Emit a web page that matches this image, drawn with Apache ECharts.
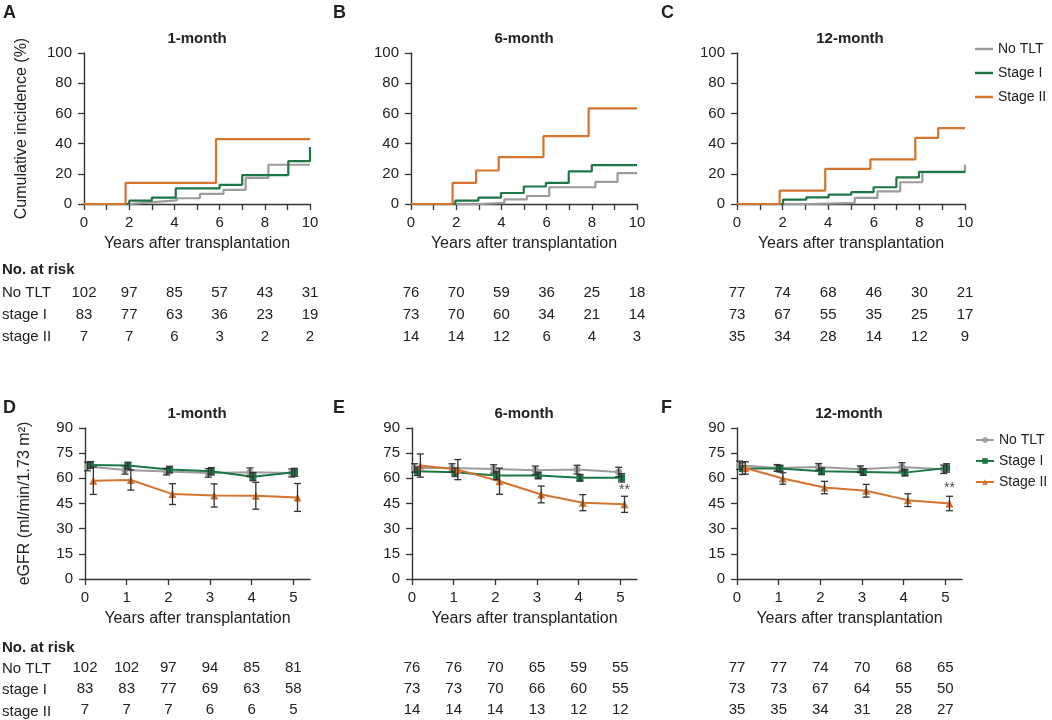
<!DOCTYPE html>
<html>
<head>
<meta charset="utf-8">
<script src="https://cdn.jsdelivr.net/npm/echarts@6/dist/echarts.min.js"></script>
<style>html,body{margin:0;padding:0;background:#fff}#c{width:1052px;height:720px}</style>
</head>
<body>
<div id="c"></div>
<script>
// ---------- DATA ----------
const groups = ['No TLT', 'Stage I', 'Stage II'];
const riskRows = ['No TLT', 'stage I', 'stage II'];
const panelTitles = ['1-month', '6-month', '12-month'];
const topLetters = ['A', 'B', 'C'];
const botLetters = ['D', 'E', 'F'];

// Cumulative incidence (%) step points [year, value after jump]
const ciA_noTLT  = [[0,0],[2.03,1.3],[3.07,2.4],[4.1,3.8],[5.13,6.7],[6.17,9.3],[7.15,17.3],[8.16,26],[10,26]];
const ciA_stage1 = [[0,0],[2.0,2.2],[3.0,4.2],[4.06,10.4],[6.0,12.7],[7.0,19.1],[9.04,28.4],[10,37.8]];
const ciA_stage2 = [[0,0],[1.84,14],[5.84,43],[10,43]];
const ciB_noTLT  = [[0,0],[3.0,0.8],[4.13,3.1],[5.13,5.3],[6.12,11.1],[8.16,14.7],[9.14,20.4],[10,20.4]];
const ciB_stage1 = [[0,0],[1.96,2.2],[2.98,4.2],[3.98,7.3],[4.99,11.6],[5.97,14],[6.98,21.6],[8.0,25.8],[10,25.8]];
const ciB_stage2 = [[0,0],[1.84,14],[2.88,22.2],[3.88,31.1],[5.86,44.9],[7.86,63.3],[10,63.3]];
const ciC_noTLT  = [[0,0],[3.2,0.7],[5.16,4],[6.16,8.4],[7.16,14.4],[8.13,21.1],[10,21.1],[10,26]];
const ciC_stage1 = [[0,0],[2.02,2.9],[3.04,4.4],[4.02,6.2],[5.01,7.8],[5.99,11.1],[6.99,17.6],[7.98,21.3],[10,21.3]];
const ciC_stage2 = [[0,0],[1.87,8.9],[3.87,23.3],[5.85,29.6],[7.82,43.8],[8.82,50.2],[10,50.2]];

// Risk tables (top: years 0,2,...,10)
const riskYearsTop = [0, 2, 4, 6, 8, 10];
const riskA = [[102,97,85,57,43,31],[83,77,63,36,23,19],[7,7,6,3,2,2]];
const riskB = [[76,70,59,36,25,18],[73,70,60,34,21,14],[14,14,12,6,4,3]];
const riskC = [[77,74,68,46,30,21],[73,67,55,35,25,17],[35,34,28,14,12,9]];

// eGFR (mean, error) at years
const egfrYears = [0.1, 1, 2, 3, 4, 5];
const egfrD_noTLT  = [67, 65, 64, 63.2, 63.6, 63.2];
const egfrD_stage1 = [68, 67.6, 65.2, 64.2, 61, 63.6];
const egfrD_stage2 = [58.6, 59, 50.6, 49.8, 49.6, 48.6];
const errD_noTLT  = [2.5, 2.5, 2, 2.5, 2.6, 2.4];
const errD_stage1 = [2, 2, 2, 2.2, 2.4, 2.4];
const errD_stage2 = [8.2, 6, 6.2, 6.9, 8, 8.3];
const egfrE_noTLT  = [66.2, 66.2, 65.6, 64.8, 65.2, 63.8];
const egfrE_stage1 = [64.2, 63.6, 61.7, 61.7, 60.3, 60.3];
const egfrE_stage2 = [67.6, 65.2, 58.3, 50.4, 45.5, 44.5];
const errE_noTLT  = [2.5, 2.5, 2.5, 2.5, 2.6, 2.8];
const errE_stage1 = [2.5, 2.5, 2.5, 2, 2, 2.5];
const errE_stage2 = [6.9, 6, 7.8, 5, 4.8, 4.8];
const egfrF_noTLT  = [67.8, 66.2, 66.8, 65.4, 66.8, 65.4];
const egfrF_stage1 = [65.8, 65.8, 64.2, 63.8, 63.4, 66.2];
const egfrF_stage2 = [66.2, 59.9, 54.5, 52.6, 47, 45];
const errF_noTLT  = [2.5, 2, 2, 2, 2.5, 2.5];
const errF_stage1 = [3.5, 2, 2, 2, 2, 2.5];
const errF_stage2 = [3.7, 3.4, 3.7, 3.8, 3.8, 4.3];
const sigE = [[5.1, 53]];
const sigF = [[5.1, 54]];

// Risk tables (bottom: years 0..5)
const riskYearsBot = [0, 1, 2, 3, 4, 5];
const riskD = [[102,102,97,94,85,81],[83,83,77,69,63,58],[7,7,7,6,6,5]];
const riskE = [[76,76,70,65,59,55],[73,73,70,66,60,55],[14,14,14,13,12,12]];
const riskF = [[77,77,74,70,68,65],[73,73,67,64,55,50],[35,35,34,31,28,27]];

// ---------- STYLE ----------
const FONT = 'Liberation Sans, Arial, sans-serif';
const TXT = '#222';
const AX = '#333';
const COL = ['#9c9c9c', '#1d7745', '#d4742e'];
const SYM = ['circle', 'rect', 'triangle'];
const DODGE = [-0.04, 0.03, 0.1];

const topGrids = [{left:84,width:226},{left:411,width:226},{left:737,width:228}];
const botGrids = [{left:85,width:225},{left:412,width:225},{left:737,width:225}];

const grid = [], xAxis = [], yAxis = [], series = [];
function addGrid(g){ grid.push(g); return grid.length - 1; }

function panelAxes(gi, isTop, first){
  xAxis.push({
    gridIndex: gi, type: 'value', min: 0, max: isTop ? 10 : 5.4,
    interval: 1,
    axisLine: {lineStyle: {color: AX, width: 1.4}},
    axisTick: isTop ? {length: 6, lineStyle:{color:AX, width:1.3}} : {length: 6, lineStyle:{color:AX, width:1.3}, customValues:[0,1,2,3,4,5]},
    axisLabel: isTop ? {fontSize: 15, color: TXT, fontFamily: FONT, margin: 11, formatter: v => (v % 2 === 0 ? String(v) : '')}
                     : {fontSize: 15, color: TXT, fontFamily: FONT, margin: 11, customValues:[0,1,2,3,4,5]},
    splitLine: {show: false},
    name: 'Years after transplantation', nameLocation: 'middle', nameGap: 32,
    nameTextStyle: {fontSize: 16, color: TXT, fontFamily: FONT}
  });
  yAxis.push({
    gridIndex: gi, type: 'value', min: 0, max: isTop ? 100 : 90, interval: isTop ? 20 : 15,
    axisLine: {show: true, lineStyle: {color: AX, width: 1.4}},
    axisTick: {show: true, length: 6, lineStyle:{color:AX, width:1.3}},
    axisLabel: {fontSize: 15, color: TXT, fontFamily: FONT, margin: 12},
    splitLine: {show: false},
    name: first ? (isTop ? 'Cumulative incidence (%)' : 'eGFR (ml/min/1.73 m²)') : '',
    nameLocation: 'middle', nameGap: isTop ? 54 : 52,
    nameTextStyle: {fontSize: 16, color: TXT, fontFamily: FONT}
  });
}

function tableAxes(gi, max){
  xAxis.push({gridIndex: gi, type: 'value', min: 0, max: max, show: false});
  yAxis.push({gridIndex: gi, type: 'category', data: riskRows, inverse: true, show: false});
}

function tableSeries(idx, years, rows){
  const data = [];
  rows.forEach((r, ri) => r.forEach((v, ci) => data.push([years[ci], ri, v])));
  series.push({
    type: 'custom', xAxisIndex: idx, yAxisIndex: idx, data: data, silent: true,
    encode: {x: 0, y: 1},
    renderItem: (params, api) => {
      const p = api.coord([api.value(0), api.value(1)]);
      return {type: 'text', x: p[0], y: p[1], style: {text: String(api.value(2)), textAlign: 'center', textVerticalAlign: 'middle', fill: TXT, font: '15px ' + FONT}};
    }
  });
}

function errRender(color){
  return (params, api) => {
    const x = api.value(0);
    const a = api.coord([x, api.value(1)]), b = api.coord([x, api.value(2)]);
    const w = 3.5;
    const st = {stroke: color, lineWidth: 1.3};
    return {type: 'group', children: [
      {type: 'line', shape: {x1: a[0], y1: a[1], x2: b[0], y2: b[1]}, style: st},
      {type: 'line', shape: {x1: a[0]-w, y1: a[1], x2: a[0]+w, y2: a[1]}, style: st},
      {type: 'line', shape: {x1: b[0]-w, y1: b[1], x2: b[0]+w, y2: b[1]}, style: st}
    ]};
  };
}

const ciSets = [[ciA_noTLT, ciA_stage1, ciA_stage2],[ciB_noTLT, ciB_stage1, ciB_stage2],[ciC_noTLT, ciC_stage1, ciC_stage2]];
const riskTop = [riskA, riskB, riskC];
const egfrSets = [[egfrD_noTLT, egfrD_stage1, egfrD_stage2],[egfrE_noTLT, egfrE_stage1, egfrE_stage2],[egfrF_noTLT, egfrF_stage1, egfrF_stage2]];
const errSets = [[errD_noTLT, errD_stage1, errD_stage2],[errE_noTLT, errE_stage1, errE_stage2],[errF_noTLT, errF_stage1, errF_stage2]];
const riskBot = [riskD, riskE, riskF];
const sigSets = [null, sigE, sigF];

// Top panels
for (let p = 0; p < 3; p++){
  const gi = addGrid({left: topGrids[p].left, width: topGrids[p].width, top: 53, height: 151});
  panelAxes(gi, true, p === 0);
  for (let s = 0; s < 3; s++){
    series.push({
      type: 'line', name: groups[s], xAxisIndex: gi, yAxisIndex: gi, data: ciSets[p][s],
      step: 'end', symbol: 'none', lineStyle: {color: COL[s], width: 2.2}, itemStyle: {color: COL[s]},
      z: 3 + s, animation: false
    });
  }
}
// Top tables
for (let p = 0; p < 3; p++){
  const gi = addGrid({left: topGrids[p].left, width: topGrids[p].width, top: 282, height: 66});
  tableAxes(gi, 10);
  tableSeries(gi, riskYearsTop, riskTop[p]);
}
// Bottom panels
for (let p = 0; p < 3; p++){
  const gi = addGrid({left: botGrids[p].left, width: botGrids[p].width, top: 428, height: 151});
  panelAxes(gi, false, p === 0);
  for (let s = 0; s < 3; s++){
    const vals = egfrSets[p][s], errs = errSets[p][s];
    const xs = egfrYears.map(x => x + DODGE[s]);
    series.push({
      type: 'line', name: groups[s] + ' ', xAxisIndex: gi, yAxisIndex: gi,
      data: vals.map((v, i) => [xs[i], v]),
      symbol: SYM[s], symbolSize: s === 2 ? 8 : 7, showSymbol: true,
      lineStyle: {color: COL[s], width: 2}, itemStyle: {color: COL[s]},
      z: 3 + s, animation: false
    });
    series.push({
      type: 'custom', xAxisIndex: gi, yAxisIndex: gi, silent: true, z: 6,
      data: vals.map((v, i) => [xs[i], v - errs[i], v + errs[i]]),
      encode: {x: 0, y: [1, 2]},
      renderItem: errRender('#333')
    });
  }
  if (sigSets[p]){
    series.push({
      type: 'scatter', xAxisIndex: gi, yAxisIndex: gi, data: sigSets[p], symbolSize: 1,
      itemStyle: {color: 'rgba(0,0,0,0)'}, silent: true,
      label: {show: true, position: 'inside', formatter: '**', fontSize: 14, color: TXT, fontFamily: FONT}
    });
  }
}
// Bottom tables
for (let p = 0; p < 3; p++){
  const gi = addGrid({left: botGrids[p].left, width: botGrids[p].width, top: 658, height: 64});
  tableAxes(gi, 5.4);
  tableSeries(gi, riskYearsBot, riskBot[p]);
}

// Graphic texts
const graphic = [];
function txt(x, y, t, o){ graphic.push({type: 'text', x: x, y: y, style: Object.assign({text: t, fill: TXT, font: '15px ' + FONT, textVerticalAlign: 'middle'}, o || {})}); }
const letterX = [3, 333, 661];
for (let p = 0; p < 3; p++){
  txt(letterX[p], 13, topLetters[p], {font: 'bold 18px ' + FONT});
  txt(letterX[p], 408, botLetters[p], {font: 'bold 18px ' + FONT});
  txt(topGrids[p].left + 113, 39, panelTitles[p], {font: 'bold 15px ' + FONT, textAlign: 'center'});
  txt(botGrids[p].left + 112, 414, panelTitles[p], {font: 'bold 15px ' + FONT, textAlign: 'center'});
}
txt(2, 270, 'No. at risk', {font: 'bold 15px ' + FONT});
txt(2, 648, 'No. at risk', {font: 'bold 15px ' + FONT});
[293, 315, 337].forEach((y, i) => txt(2, y, riskRows[i]));
[669, 690, 712].forEach((y, i) => txt(2, y, riskRows[i]));

const chart = echarts.init(document.getElementById('c'), null, {renderer: 'canvas'});
chart.setOption({
  backgroundColor: '#fff',
  animation: false,
  textStyle: {fontFamily: FONT},
  grid: grid, xAxis: xAxis, yAxis: yAxis, series: series, graphic: graphic,
  legend: [
    {data: groups, orient: 'vertical', left: 970, top: 37, icon: 'rect', itemWidth: 18, itemHeight: 2.5, itemGap: 10,
     textStyle: {fontSize: 14, color: TXT, fontFamily: FONT}},
    {data: groups.map(g => g + ' '), orient: 'vertical', left: 970, top: 428, itemWidth: 18, itemHeight: 7, itemGap: 7,
     formatter: n => n.trim(), textStyle: {fontSize: 14, color: TXT, fontFamily: FONT}}
  ]
});
</script>
</body>
</html>
